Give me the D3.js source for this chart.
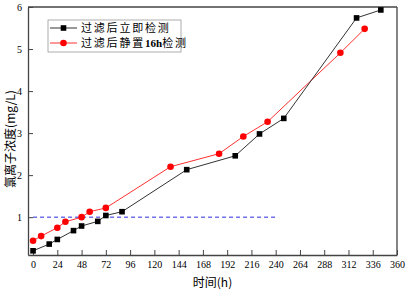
<!DOCTYPE html>
<html>
<head>
<meta charset="utf-8">
<script src="https://cdn.jsdelivr.net/npm/d3@7"></script>
<style>
  body { margin: 0; background: #fff; }
  svg { display: block; }
</style>
</head>
<body>
<div id="chart"></div>
<script>
// 过滤后立即检测
const blackX = [0, 16, 24, 40, 48, 64, 72, 88, 152, 200, 224, 248, 320, 344];
const blackY = [0.20, 0.36, 0.47, 0.68, 0.79, 0.90, 1.04, 1.13, 2.13, 2.46, 2.98, 3.35, 5.74, 5.93];
// 过滤后静置16h检测
const redX = [0, 8, 24, 32, 48, 56, 72, 136, 184, 208, 232, 304, 328];
const redY = [0.44, 0.55, 0.75, 0.89, 1.00, 1.13, 1.22, 2.20, 2.51, 2.92, 3.27, 4.91, 5.48];
const xTicks = d3.range(0, 361, 24);
const yTicks = [1, 2, 3, 4, 5, 6];
const limitY = 1;          // 限值线
const limitXEnd = 240;
const seriesNames = [['过滤后立即检测'], ['过滤后静置', '16h', '检测']];

const W = 406, H = 291;
const margin = { top: 7, right: 9, bottom: 36, left: 28 };
const width = W - margin.left - margin.right;
const height = H - margin.top - margin.bottom;

const svg = d3.select('#chart').append('svg')
  .attr('width', W).attr('height', H)
  .append('g')
  .attr('transform', `translate(${margin.left},${margin.top})`);

const x = d3.scaleLinear().domain([-5, 360]).range([0, width]);
const y = d3.scaleLinear().domain([0.1, 6]).range([height, 0]);

const serif = '"Liberation Serif", "Times New Roman", serif';
const cjk = '"Noto Sans CJK SC", sans-serif';

// 坐标轴
const xAxis = svg.append('g')
  .attr('transform', `translate(0,${height})`)
  .call(d3.axisBottom(x).tickValues(xTicks).tickSizeInner(-5).tickSizeOuter(0).tickPadding(6));
const yAxis = svg.append('g')
  .call(d3.axisLeft(y).tickValues(yTicks).tickFormat(d3.format('d'))
    .tickSizeInner(-5).tickSizeOuter(0).tickPadding(6));
[xAxis, yAxis].forEach(g => {
  g.select('.domain').attr('stroke', '#444').attr('stroke-width', 1.3);
  g.selectAll('.tick line').attr('stroke', '#444');
  g.selectAll('.tick text').attr('fill', '#000')
    .style('font-family', serif).style('font-size', '10px');
});

// 上、右边框
svg.append('line').attr('x1', 0).attr('x2', width).attr('y1', 0).attr('y2', 0)
  .attr('stroke', '#444').attr('stroke-width', 1.3);
svg.append('line').attr('x1', width).attr('x2', width).attr('y1', 0).attr('y2', height)
  .attr('stroke', '#444').attr('stroke-width', 1.3);

// 1 mg/L 虚线
svg.append('line')
  .attr('x1', x(0)).attr('x2', x(limitXEnd))
  .attr('y1', y(limitY)).attr('y2', y(limitY))
  .attr('stroke', '#2a2ae0').attr('stroke-width', 1)
  .attr('stroke-dasharray', '4,3');

const line = d3.line().x(d => x(d[0])).y(d => y(d[1]));
const blackData = blackX.map((v, i) => [v, blackY[i]]);
const redData = redX.map((v, i) => [v, redY[i]]);

svg.append('path').datum(redData).attr('d', line)
  .attr('fill', 'none').attr('stroke', '#ff3030').attr('stroke-width', 1);
svg.selectAll('.rdot').data(redData).enter().append('circle')
  .attr('cx', d => x(d[0])).attr('cy', d => y(d[1])).attr('r', 3.3)
  .attr('fill', '#ff0000');

svg.append('path').datum(blackData).attr('d', line)
  .attr('fill', 'none').attr('stroke', '#333').attr('stroke-width', 1);
svg.selectAll('.bsq').data(blackData).enter().append('rect')
  .attr('x', d => x(d[0]) - 2.8).attr('y', d => y(d[1]) - 2.8)
  .attr('width', 5.6).attr('height', 5.6).attr('fill', '#000');

// 轴标题
svg.append('text')
  .attr('x', width / 2).attr('y', height + 32)
  .attr('text-anchor', 'middle')
  .style('font-family', cjk).style('font-size', '12px')
  .text('时间(h)');
svg.append('text')
  .attr('transform', `translate(${11 - margin.left},${139 - margin.top}) rotate(-90)`)
  .attr('text-anchor', 'middle').attr('dy', '0.35em')
  .style('font-family', cjk).style('font-size', '12px')
  .text('氯离子浓度(mg/L)');

// 图例
const lg = svg.append('g').attr('transform', `translate(${48 - margin.left},${20 - margin.top})`);
lg.append('rect').attr('width', 133).attr('height', 32)
  .attr('fill', '#fff').attr('stroke', '#999').attr('stroke-width', 0.8);
const legendRows = [
  { name: seriesNames[0], color: '#333', shape: 'square', yy: 8 },
  { name: seriesNames[1], color: '#ff3030', shape: 'circle', yy: 23 }
];
legendRows.forEach(r => {
  lg.append('line').attr('x1', 2).attr('x2', 29).attr('y1', r.yy).attr('y2', r.yy)
    .attr('stroke', r.color).attr('stroke-width', 1);
  if (r.shape === 'square') {
    lg.append('rect').attr('x', 15.5 - 2.8).attr('y', r.yy - 2.8)
      .attr('width', 5.6).attr('height', 5.6).attr('fill', '#000');
  } else {
    lg.append('circle').attr('cx', 15.5).attr('cy', r.yy).attr('r', 3.3).attr('fill', '#ff0000');
  }
  const t = lg.append('text').attr('x', 33).attr('y', r.yy).attr('dy', '0.35em')
    .style('font-family', cjk).style('font-size', '11px');
  r.name.forEach(part => {
    const isLatin = /^[0-9a-z]+$/.test(part);
    t.append('tspan').text(part)
      .style('letter-spacing', isLatin ? '0px' : '1.8px')
      .style('font-family', isLatin ? serif : cjk)
      .style('font-weight', isLatin ? 'bold' : 'normal');
  });
});
</script>
</body>
</html>
